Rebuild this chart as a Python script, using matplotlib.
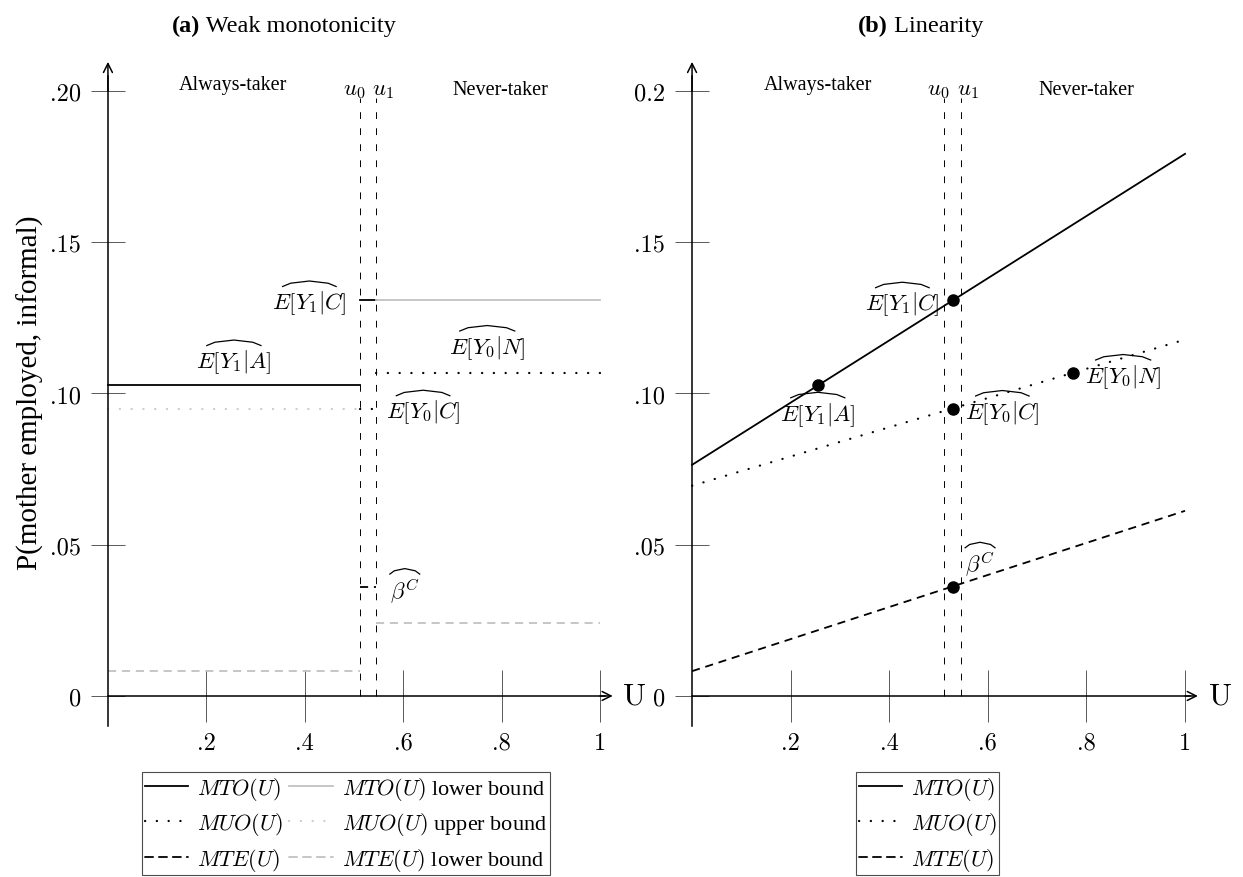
import matplotlib
matplotlib.use("Agg")
import matplotlib.pyplot as plt
from matplotlib.lines import Line2D
from matplotlib.transforms import IdentityTransform

plt.rcParams['font.family'] = ['Liberation Serif', 'DejaVu Serif']
plt.rcParams['mathtext.fontset'] = 'cm'

# === DATA ===
u0, u1 = 0.512, 0.545                 # complier band on U
u_always, u_complier, u_never = 0.256, 0.529, 0.773

e_y1_a = 0.1027
e_y1_c = 0.1308
e_y0_c = 0.0950
e_y0_n = 0.1068
beta_c = 0.0361

# MTE lower bound in the weak monotonicity panel
mte_lb_always = 0.0082
mte_lb_never = 0.0240

# linear MTR fits (value at U=0, value at U=1)
u_ends = [0.0, 1.0]
mto_line = [0.0764, 0.1792]
muo_line = [0.0695, 0.1178]
mte_line = [0.0082, 0.0612]

x_ticks = [0.2, 0.4, 0.6, 0.8, 1.0]
x_labels = ['.2', '.4', '.6', '.8', '1']
y_ticks = [0.0, 0.05, 0.10, 0.15, 0.20]
y_labels_a = ['0', '.05', '.10', '.15', '.20']
y_labels_b = ['0', '.05', '.10', '.15', '0.2']

# === STYLE ===
LW = 1.3
GRAY = '0.76'
LGRAY = '0.80'
DOT = (0, (0.1, 5.2))
DASH = (0, (4.5, 3.2))
MATH_FS = 16.5
CM = 'cmr10'

hatted = []   # (text, inset) pairs that get a wide hat drawn on top


def setup_axes(ax, ylabels):
    ax.set_xlim(-0.04, 1.08)
    ax.set_ylim(-0.015, 0.215)
    ax.patch.set_visible(False)
    ax.spines['top'].set_visible(False)
    ax.spines['right'].set_visible(False)
    ax.spines['left'].set_position(('data', 0))
    ax.spines['bottom'].set_position(('data', 0))
    ax.spines['left'].set_bounds(-0.0099, 0.205)
    ax.spines['bottom'].set_bounds(0, 1.01)
    ax.spines['left'].set_linewidth(1.1)
    ax.spines['bottom'].set_linewidth(1.1)
    arrow = dict(arrowstyle='->', lw=1.1, color='k', shrinkA=0, shrinkB=0,
                 mutation_scale=16)
    ax.annotate('', xy=(0, 0.2096), xytext=(0, 0.200), arrowprops=arrow,
                annotation_clip=False)
    ax.annotate('', xy=(1.026, 0), xytext=(1.0, 0), arrowprops=arrow,
                annotation_clip=False)
    ax.set_xticks(x_ticks, x_labels)
    ax.set_yticks(y_ticks, ylabels)
    ax.tick_params(axis='x', direction='inout', length=37, width=0.7,
                   color='0.35', pad=7, labelsize=17.5)
    ax.tick_params(axis='y', direction='inout', length=24.5, width=0.7,
                   color='0.35', pad=7, labelsize=17.5)
    for lbl in ax.get_xticklabels() + ax.get_yticklabels():
        lbl.set_fontfamily(CM)
    ax.text(1.071, 0, 'U', fontsize=22, family=CM, ha='center', va='center')
    # complier band
    ax.vlines([u0, u1], 0, 0.1977, colors='k', lw=0.7,
              linestyles=[(0, (7, 9.5))])


def top_labels(ax, x_at, x_nt, x_u0, x_u1):
    ax.text(x_at, 0.2022, 'Always-taker', fontsize=14.5, ha='center', va='center')
    ax.text(x_nt, 0.2005, 'Never-taker', fontsize=14.5, ha='center', va='center')
    ax.text(x_u0, 0.2005, '$u_0$', fontsize=MATH_FS, ha='center', va='center')
    ax.text(x_u1, 0.2005, '$u_1$', fontsize=MATH_FS, ha='center', va='center')


def hat_label(ax, x, y, s, ha, va, inset=0.14):
    t = ax.text(x, y, s, fontsize=MATH_FS, ha=ha, va=va)
    hatted.append((t, inset))


fig = plt.figure(figsize=(12.43, 8.78), dpi=100)
ax_a = fig.add_axes([0.0710, 0.1545, 0.4433, 0.7925])
ax_b = fig.add_axes([0.5409, 0.1545, 0.4442, 0.7925])

# === (a) Weak monotonicity ===
setup_axes(ax_a, y_labels_a)
ax_a.plot([0, u0], [e_y1_a, e_y1_a], color='k', lw=LW)
ax_a.plot([u0, u1], [e_y1_c, e_y1_c], color='k', lw=LW)
ax_a.plot([u1, 1], [e_y1_c, e_y1_c], color=GRAY, lw=LW)
ax_a.plot([0, u0], [e_y0_c, e_y0_c], color=LGRAY, lw=1.6, ls=DOT,
          dash_capstyle='round')
ax_a.plot([u0, u1], [e_y0_c, e_y0_c], color='k', lw=1.6, ls=DOT,
          dash_capstyle='round')
ax_a.plot([u1, 1], [e_y0_n, e_y0_n], color='k', lw=1.6, ls=DOT,
          dash_capstyle='round')
ax_a.plot([u0, u1], [beta_c, beta_c], color='k', lw=LW, ls=DASH)
ax_a.plot([0, u0], [mte_lb_always, mte_lb_always], color=GRAY, lw=LW, ls=DASH)
ax_a.plot([u1, 1], [mte_lb_never, mte_lb_never], color=GRAY, lw=LW, ls=DASH)

hat_label(ax_a, 0.256, 0.1060, r'$E[Y_1|A]$', 'center', 'bottom')
hat_label(ax_a, 0.485, 0.1301, r'$E[Y_1|C]$', 'right', 'center')
hat_label(ax_a, 0.771, 0.1108, r'$E[Y_0|N]$', 'center', 'bottom')
hat_label(ax_a, 0.565, 0.0940, r'$E[Y_0|C]$', 'left', 'center')
hat_label(ax_a, 0.573, 0.0349, r'$\beta^C$', 'left', 'center', inset=0.0)
top_labels(ax_a, 0.254, 0.797, u0 - 0.012, u1 + 0.014)

# === (b) Linearity ===
setup_axes(ax_b, y_labels_b)
ax_b.plot(u_ends, mto_line, color='k', lw=LW)
ax_b.plot(u_ends, muo_line, color='k', lw=1.6, ls=DOT, dash_capstyle='round')
ax_b.plot(u_ends, mte_line, color='k', lw=LW, ls=DASH)
ax_b.plot([u_always, u_complier], [e_y1_a, e_y1_c], 'o', color='k', ms=8)
ax_b.plot([u_complier, u_never], [e_y0_c, e_y0_n], 'o', color='k', ms=8)
ax_b.plot([u_complier], [beta_c], 'o', color='k', ms=8)

hat_label(ax_b, 0.502, 0.1297, r'$E[Y_1|C]$', 'right', 'center')
hat_label(ax_b, 0.255, 0.0979, r'$E[Y_1|A]$', 'center', 'top')
hat_label(ax_b, 0.554, 0.0939, r'$E[Y_0|C]$', 'left', 'center')
hat_label(ax_b, 0.797, 0.1058, r'$E[Y_0|N]$', 'left', 'center')
hat_label(ax_b, 0.554, 0.0436, r'$\beta^C$', 'left', 'center', inset=0.0)
top_labels(ax_b, 0.255, 0.800, 0.499, 0.560)

# === titles and axis label ===
ybase = 1 - 32 / 878
t_a = fig.text(172 / 1243, ybase, '(a)', fontsize=17.5, weight='bold', va='baseline')
ax_a.annotate(' Weak monotonicity', xy=(1, ybase), xycoords=(t_a, 'figure fraction'),
              fontsize=17.5, va='baseline', ha='left', annotation_clip=False)
t_b = fig.text(858 / 1243, ybase, '(b)', fontsize=17.5, weight='bold', va='baseline')
ax_b.annotate(' Linearity', xy=(1, ybase), xycoords=(t_b, 'figure fraction'),
              fontsize=17.5, va='baseline', ha='left', annotation_clip=False)

fig.text(30 / 1243, 1 - 393 / 878, 'P(mother employed, informal)', fontsize=21,
         rotation=90, ha='center', va='center')

# === legends ===
def handle(color, ls, lw=LW):
    return Line2D([], [], color=color, ls=ls, lw=lw, dash_capstyle='round')

leg_style = dict(loc='upper left', bbox_transform=fig.transFigure, frameon=True,
                 fancybox=False, edgecolor='0.3', framealpha=1, fontsize=16,
                 handlelength=1.95, handletextpad=0.4, columnspacing=0.3,
                 labelspacing=0.38, borderpad=0.12, borderaxespad=0)

handles_a = [handle('k', '-'), handle('k', DOT, 1.6), handle('k', DASH),
             handle(GRAY, '-'), handle(LGRAY, DOT, 1.6), handle(GRAY, DASH)]
labels_a = ['$MTO(U)$', '$MUO(U)$', '$MTE(U)$',
            '$MTO(U)$ lower bound', '$MUO(U)$ upper bound', '$MTE(U)$ lower bound']
leg_a = fig.legend(handles_a, labels_a, ncol=2,
                   bbox_to_anchor=(142 / 1243, 1 - 773 / 878), **leg_style)
leg_a.get_frame().set_linewidth(0.8)

handles_b = [handle('k', '-'), handle('k', DOT, 1.6), handle('k', DASH)]
labels_b = ['$MTO(U)$', '$MUO(U)$', '$MTE(U)$']
leg_b = fig.legend(handles_b, labels_b, ncol=1,
                   bbox_to_anchor=(856 / 1243, 1 - 773 / 878), **leg_style)
leg_b.get_frame().set_linewidth(0.8)

# wide hats over the estimate labels, sized from the rendered text boxes
fig.canvas.draw()
renderer = fig.canvas.get_renderer()
for t, inset in hatted:
    bb = t.get_window_extent(renderer)
    x0 = bb.x0 + inset * bb.width
    x1 = bb.x1 - inset * bb.width
    xm = 0.5 * (x0 + x1)
    y0 = bb.y1 + 2.0
    h = 5.5
    xs = [x0, x0 + 0.3 * (xm - x0), xm, x1 - 0.3 * (x1 - xm), x1]
    ys = [y0, y0 + 0.6 * h, y0 + h, y0 + 0.6 * h, y0]
    fig.add_artist(Line2D(xs, ys, transform=IdentityTransform(), color='k',
                          lw=0.9, solid_joinstyle='round'))

fig.savefig('out.png', dpi=100)
